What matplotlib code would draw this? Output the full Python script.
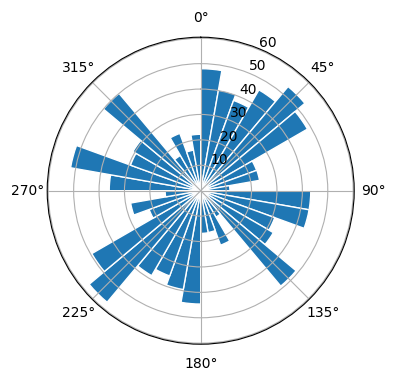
import numpy as np
import matplotlib
matplotlib.use("Agg")
import matplotlib.pyplot as plt

# bin start angles (degrees, clockwise from north), 10 degree bins
bin_starts = np.arange(0, 360, 10)
bin_width = 10

# bar lengths, one per bin
radii = [48.0, 40.3, 37.8, 45.8, 53.5, 48.5, 23.4, 23.5, 11.5,
         43.3, 43.3, 31.0, 33.0, 49.0, 12.0, 22.8, 16.7, 16.8,
         44.6, 39.5, 35.7, 38.6, 57.3, 49.5, 21.6, 28.0, 14.0,
         36.0, 52.0, 29.4, 30.8, 50.0, 16.0, 24.0, 16.2, 22.2]

fig = plt.figure(figsize=(3.96, 3.80), dpi=100)
ax = fig.add_axes([0.1192, 0.0942, 0.7753, 0.8079], projection='polar')

ax.set_theta_zero_location('N')
ax.set_theta_direction(-1)

ax.bar(np.deg2rad(bin_starts), radii,
       width=np.deg2rad(bin_width),
       align='edge',
       color='#1f77b4',
       edgecolor='white',
       linewidth=1)

ax.set_ylim(0, 60.4)
ax.set_yticks([10, 20, 30, 40, 50, 60])

fig.savefig('out.png', dpi=100)
